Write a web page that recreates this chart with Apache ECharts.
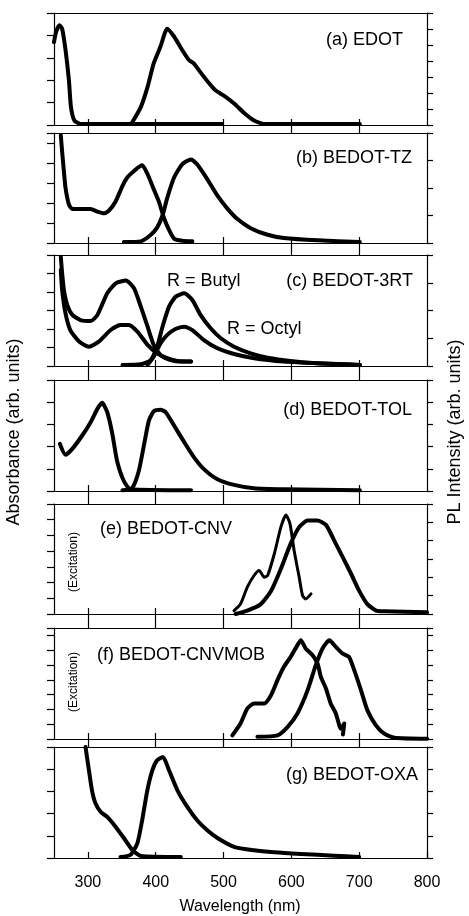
<!DOCTYPE html>
<html><head><meta charset="utf-8">
<script src="https://cdn.jsdelivr.net/npm/echarts@6/dist/echarts.min.js"></script>
<style>html,body{margin:0;padding:0;background:#fff}#c{width:469px;height:916px}</style>
</head><body><div id="c"></div>
<script>
// ---------- data (wavelength nm, normalised intensity 0-100 per panel) ----------
const wavelengthTicks = [300, 400, 500, 600, 700, 800];
const innerTicks = [300, 400, 500, 600, 700];
const panelLabels = ['(a) EDOT', '(b) BEDOT-TZ', '(c) BEDOT-3RT', '(d) BEDOT-TOL', '(e) BEDOT-CNV', '(f) BEDOT-CNVMOB', '(g) BEDOT-OXA'];

const edotAbs = [[250,74],[253,83],[258,89],[262,86],[267,67],[272,40],[275,16],[280,4],[289,1],[498,1]];
const edotPL = [[365,2],[378,16],[388,34],[397,55],[407,70],[417,86],[427,79],[439,67],[449,58],[456,55],[466,47],[479,37],[488,31],[501,26],[516,19],[530,11],[545,4],[560,1],[701,1]];

const tzAbs = [[260,98],[262,83],[264.6,65],[267,50],[272,35],[277,31],[289,31],[304,31],[314,28.5],[324,27],[331,29.4],[341,38],[351,52],[358,59.5],[368,65.5],[380,70.6],[388,62.5],[397,49],[405,37],[412,23],[420,11.4],[427,4],[439,2],[454,1.5]];
const tzPL = [[353,1],[378,1.5],[392,7],[402,14],[410,25],[417,41],[427,59.5],[439,71.5],[452,76],[461,71.5],[476,58],[491,43],[506,31],[520,22],[540,13.5],[565,7.5],[589,4.5],[639,2.4],[701,1]];

const butylAbs = [[260,98.5],[262,83.5],[264.6,68.5],[269.5,55],[277,46],[289,41.4],[304,40.5],[314,46],[328.5,65.5],[341,74.5],[356,77],[368,70],[378,53.5],[388,35.4],[397,19],[407,10],[422,5.4],[437,4],[452,4]];
const octylAbs = [[260,86.5],[262,68.5],[267,47.4],[274,32.4],[287,22],[301.5,17.4],[316,22],[333.5,32.4],[348,37],[360.5,37],[373,31],[388,19],[402,11.4],[417,7],[432,4.5],[452,4]];
const butylPL = [[351,1],[378,1.5],[392.5,5.4],[402,17.4],[410,35.4],[419.6,53.5],[429.4,62.5],[442,65.5],[454,59.5],[466,46],[481,34],[496,25],[515.5,17.4],[540,11.4],[565,7.5],[599,4.5],[639,2.4],[701,1]];
const octylPL = [[388,1],[397,8.4],[407,20.4],[417,28],[429,33.3],[442,35.4],[454,32.4],[471,23.4],[491,16],[515.5,10.8],[545,7],[589,4],[639,2.4],[701,1]];

const tolAbs = [[258.7,42.4],[267,32.7],[277,38],[291.6,50],[304,62],[314,74],[321,79.4],[328.5,71],[336,51.5],[343,27],[353,9],[363,1.5],[452,0.6]];
const tolPL = [[351,0.6],[365.5,3],[375,18],[383,42.4],[390,63.6],[397.5,72],[407,73.3],[414.7,71],[427,59],[442,44],[456.5,30.3],[471,19.7],[491,10.6],[515.5,5.5],[545,2.4],[589,1.5],[701,0.6]];

const cnvExc = [[515.5,3],[525,9],[535,24.4],[545,35],[552.5,39.6],[560,33.5],[565,35],[575,55],[584.5,79],[592,90],[598,82],[604,58],[611.5,33.5],[616.5,16.8],[621,13.7],[629,18.3]];
const cnvPL = [[518,0],[535,3],[555,9],[570,21],[584.5,41],[599,64],[611.5,79],[624,85],[638.5,85],[651,81],[663,67],[675.5,52],[688,36.6],[700,21],[712,9],[725,3],[737,2.4],[800,1.5]];

const mobExc = [[513,3.3],[525,14],[535,27.4],[545,32],[560,32],[570,39.5],[579.5,53],[589,65],[599,74],[609,84.6],[614,89],[621,81.6],[631,75.6],[638.6,68],[643.5,56],[651,45.5],[658,32],[665.6,23],[673,9.3],[678,13.9],[676,4]];
const mobPL = [[550,2],[579.5,3.3],[594.6,11],[609,23],[624,44],[636,66.6],[646,81.6],[656,89],[665.6,83],[675.5,77],[685,74],[692.7,62],[702.6,44],[712,26],[724.7,12.3],[737,4.8],[752,1.2],[800,0.3]];

const oxaAbs = [[296.5,100],[301.5,79],[306,61],[311,49.5],[319,41.4],[328.5,37],[341,28],[353,18],[365.5,7.2],[378,1.8],[437,0.9]];
const oxaPL = [[348,0.9],[363,3],[373,13.5],[380,34],[387.6,61],[395,79],[402,88],[410.7,91],[419.6,79],[432,61],[446.6,46],[461,34],[476,25],[491,18],[515.5,10],[545,6.9],[574.6,5.1],[614,3.6],[663,2.1],[700,0.9]];

// ---------- layout ----------
const tops = [13, 133, 255, 380, 504, 628, 747];
const heights = [112, 110, 111, 111, 110, 111, 111];
const leftDiv = [5, 5.5, 6, 5, 7, 7.5, 5];
const rightDiv = [7, 4, 4, 5, 6, 7.5, 5];
const FONT = '"Liberation Sans", Arial, sans-serif';

const panelSeries = [
  [{d: edotAbs, ax: 'L'}, {d: edotPL, ax: 'R'}],
  [{d: tzAbs, ax: 'L'}, {d: tzPL, ax: 'R'}],
  [{d: butylAbs, ax: 'L'}, {d: octylAbs, ax: 'L'}, {d: butylPL, ax: 'R'}, {d: octylPL, ax: 'R'}],
  [{d: tolAbs, ax: 'L'}, {d: tolPL, ax: 'R'}],
  [{d: cnvExc, ax: 'L', w: 3}, {d: cnvPL, ax: 'R'}],
  [{d: mobExc, ax: 'L'}, {d: mobPL, ax: 'R'}],
  [{d: oxaAbs, ax: 'L'}, {d: oxaPL, ax: 'R'}]
];

const grid = [], xAxis = [], yAxis = [], series = [];
const lineC = '#000';
for (let i = 0; i < 7; i++) {
  grid.push({left: 54, right: 42, top: tops[i], height: heights[i], show: false});
  const last = i === 6;
  const bx = xAxis.length;
  xAxis.push({
    type: 'value', gridIndex: i, position: 'bottom', min: 250, max: 800,
    axisLine: {show: true, onZero: false, lineStyle: {color: lineC, width: 1.2}},
    axisTick: {show: true, inside: true, length: 6, customValues: last ? wavelengthTicks : innerTicks, lineStyle: {color: lineC, width: 1.2}},
    axisLabel: {show: last, customValues: wavelengthTicks, margin: 17, fontSize: 16, fontFamily: FONT, color: '#000'},
    splitLine: {show: false}
  });
  const gap = i === 0 ? 0 : tops[i] - (tops[i-1] + heights[i-1]);
  xAxis.push({
    type: 'value', gridIndex: i, position: 'top', min: 250, max: 800,
    axisLine: {show: true, onZero: false, lineStyle: {color: lineC, width: 1.2}},
    axisTick: {show: i > 0, inside: false, length: gap, customValues: innerTicks, lineStyle: {color: lineC, width: 1.2}},
    axisLabel: {show: false}, splitLine: {show: false}
  });
  const ly = yAxis.length;
  yAxis.push({
    type: 'value', gridIndex: i, position: 'left', min: 0, max: 100, interval: 100 / leftDiv[i],
    axisLine: {show: true, onZero: false, lineStyle: {color: lineC, width: 1.2}},
    axisTick: {show: true, inside: false, length: 7, lineStyle: {color: lineC, width: 1.2}},
    axisLabel: {show: false}, splitLine: {show: false}
  });
  const ry = yAxis.length;
  yAxis.push({
    type: 'value', gridIndex: i, position: 'right', min: 0, max: 100, interval: 100 / rightDiv[i],
    axisLine: {show: true, onZero: false, lineStyle: {color: lineC, width: 1.2}},
    axisTick: {show: true, inside: false, length: 6, lineStyle: {color: lineC, width: 1.2}},
    axisLabel: {show: false}, splitLine: {show: false}
  });
  panelSeries[i].forEach(s => {
    series.push({
      type: 'line', xAxisIndex: bx, yAxisIndex: s.ax === 'L' ? ly : ry,
      data: s.d, showSymbol: false, symbol: 'none', smooth: 0.2, animation: false,
      lineStyle: {color: '#000', width: s.w || 4, cap: 'round', join: 'round'}
    });
  });
}

function txt(x, y, text, size, align, rot) {
  return {type: 'text', x: x, y: y, rotation: rot || 0, z: 100,
    style: {text: text, font: size + 'px ' + FONT, fill: '#000', align: align || 'left', verticalAlign: 'middle'}};
}
const labelPos = [[403, 40, 'right'], [412, 158, 'right'], [413, 281, 'right'], [412, 410, 'right'], [100, 529, 'left'], [97, 655, 'left'], [418, 775, 'right']];
const graphic = labelPos.map((p, i) => txt(p[0], p[1], panelLabels[i], 18, p[2]));
graphic.push(txt(167, 281, 'R = Butyl', 18, 'left'));
graphic.push(txt(227, 329, 'R = Octyl', 18, 'left'));
graphic.push(txt(74, 562, '(Excitation)', 12, 'center', Math.PI / 2));
graphic.push(txt(74, 682, '(Excitation)', 12, 'center', Math.PI / 2));
graphic.push(txt(14, 432, 'Absorbance (arb. units)', 18, 'center', Math.PI / 2));
graphic.push(txt(455, 432, 'PL Intensity (arb. units)', 18, 'center', Math.PI / 2));
graphic.push(txt(240, 907, 'Wavelength (nm)', 16, 'center'));

const chart = echarts.init(document.getElementById('c'), null, {renderer: 'canvas'});
chart.setOption({backgroundColor: '#fff', animation: false, grid, xAxis, yAxis, series, graphic});
</script>
</body></html>
